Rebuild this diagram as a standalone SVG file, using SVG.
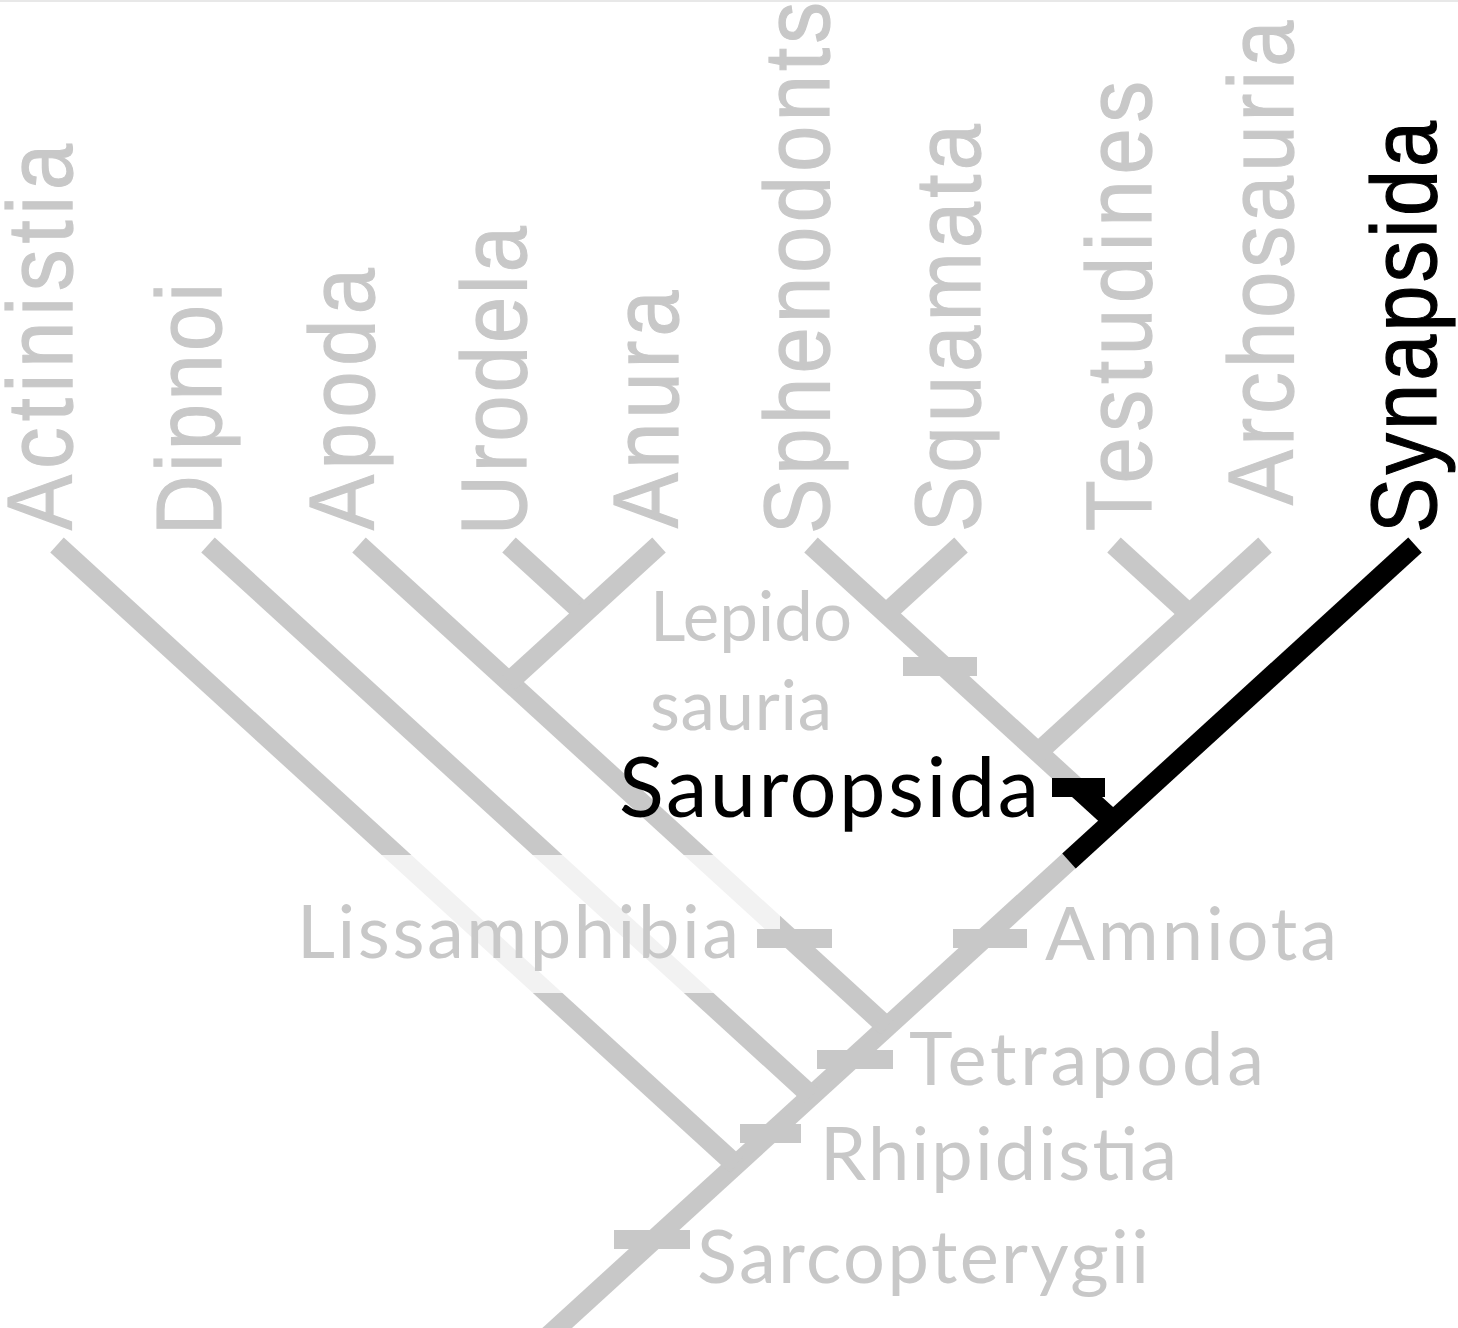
<svg xmlns="http://www.w3.org/2000/svg" width="1458" height="1328" viewBox="0 0 1458 1328">
  <style>
    .br { stroke: #c8c8c8; stroke-width: 20; fill: none; stroke-linecap: butt; }
    .bk { stroke: #000000; stroke-width: 20; fill: none; stroke-linecap: butt; }
    .tick { fill: #c8c8c8; }
    .tickb { fill: #000000; }
    .tip { font-family: "Liberation Sans", Arial, sans-serif; font-size: 92px; fill: #c8c8c8; stroke: #c8c8c8; stroke-width: 1.2px; }
    .tipb { fill: #000000; stroke: #000000; }
    .cl { font-family: Lato, "Open Sans", sans-serif; font-size: 74px; fill: #c8c8c8; }
    .blk { fill: #000000; }
  </style>
  <rect x="0" y="0" width="1458" height="1328" fill="#ffffff"/>
  <rect x="0" y="0" width="1458" height="2" fill="#e8e8e8"/>

  <g id="connectors">
    <line class="br" x1="1415" y1="545" x2="544" y2="1340"/>
    <line class="br" x1="57" y1="545" x2="736" y2="1165"/>
    <line class="br" x1="208" y1="545" x2="811.5" y2="1096"/>
    <line class="br" x1="359" y1="545" x2="887" y2="1027"/>
    <line class="br" x1="509" y1="545" x2="584" y2="613.5"/>
    <line class="br" x1="659" y1="545" x2="509" y2="682"/>
    <line class="br" x1="811" y1="545" x2="1113" y2="820.7"/>
    <line class="br" x1="961" y1="545" x2="886" y2="613.5"/>
    <line class="br" x1="1114" y1="545" x2="1189.5" y2="614"/>
    <line class="br" x1="1265" y1="545" x2="1038" y2="752.3"/>
  </g>

  <rect id="fade" x="340" y="855" width="440" height="138" fill="#ffffff" fill-opacity="0.76"/>

  <g id="highlight">
    <line class="bk" x1="1415" y1="545" x2="1069" y2="861"/>
    <line class="bk" x1="1075" y1="786" x2="1115" y2="822.5"/>
  </g>

  <g id="ticks">
    <rect class="tick" x="903" y="657" width="74" height="19"/>
    <rect class="tick" x="953" y="929" width="74" height="19"/>
    <rect class="tick" x="757" y="929" width="75" height="19"/>
    <rect class="tick" x="817" y="1050" width="76" height="19"/>
    <rect class="tick" x="740" y="1124" width="61" height="19"/>
    <rect class="tick" x="614" y="1230" width="76" height="19"/>
    <rect class="tickb" x="1052" y="778" width="53" height="19"/>
  </g>

  <g id="tip-actinistia"><text class="tip" transform="translate(72,530) rotate(-90) scale(0.9,1)" textLength="429" lengthAdjust="spacing">Actinistia</text></g>
  <g id="tip-dipnoi"><text class="tip" transform="translate(221,535) rotate(-90) scale(0.9,1)" textLength="280" lengthAdjust="spacing">Dipnoi</text></g>
  <g id="tip-apoda"><text class="tip" transform="translate(374,530) rotate(-90) scale(0.9,1)" textLength="291" lengthAdjust="spacing">Apoda</text></g>
  <g id="tip-urodela"><text class="tip" transform="translate(526,535) rotate(-90) scale(0.9,1)" textLength="343" lengthAdjust="spacing">Urodela</text></g>
  <g id="tip-anura"><text class="tip" transform="translate(678,528) rotate(-90) scale(0.9,1)" textLength="264" lengthAdjust="spacing">Anura</text></g>
  <g id="tip-sphenodonts"><text class="tip" transform="translate(829,534) rotate(-90) scale(0.9,1)" textLength="591" lengthAdjust="spacing">Sphenodonts</text></g>
  <g id="tip-squamata"><text class="tip" transform="translate(980,532) rotate(-90) scale(0.9,1)" textLength="453" lengthAdjust="spacing">Squamata</text></g>
  <g id="tip-testudines"><text class="tip" transform="translate(1151,531) rotate(-90) scale(0.9,1)" textLength="500" lengthAdjust="spacing">Testudines</text></g>
  <g id="tip-archosauria"><text class="tip" transform="translate(1293,505) rotate(-90) scale(0.9,1)" textLength="538" lengthAdjust="spacing">Archosauria</text></g>
  <g id="tip-synapsida"><text class="tip tipb" transform="translate(1436,533) rotate(-90) scale(0.9,1)" textLength="458" lengthAdjust="spacing">Synapsida</text></g>

  <g id="clade-lepidosauria">
    <text class="cl" x="650" y="641" style="font-size:69px" textLength="202" lengthAdjust="spacing">Lepido</text>
    <text class="cl" x="650" y="730" style="font-size:69px" textLength="182" lengthAdjust="spacing">sauria</text>
  </g>
  <g id="clade-sauropsida"><text class="cl blk" x="619" y="817" style="font-size:83px" textLength="420" lengthAdjust="spacing">Sauropsida</text></g>
  <g id="clade-lissamphibia"><text class="cl" x="297" y="958" textLength="442" lengthAdjust="spacing">Lissamphibia</text></g>
  <g id="clade-amniota"><text class="cl" x="1045" y="960" textLength="292" lengthAdjust="spacing">Amniota</text></g>
  <g id="clade-tetrapoda"><text class="cl" x="909" y="1085" textLength="355" lengthAdjust="spacing">Tetrapoda</text></g>
  <g id="clade-rhipidistia"><text class="cl" x="820" y="1180" textLength="357" lengthAdjust="spacing">Rhipidistia</text></g>
  <g id="clade-sarcopterygii"><text class="cl" x="697" y="1283" textLength="452" lengthAdjust="spacing">Sarcopterygii</text></g>
</svg>
